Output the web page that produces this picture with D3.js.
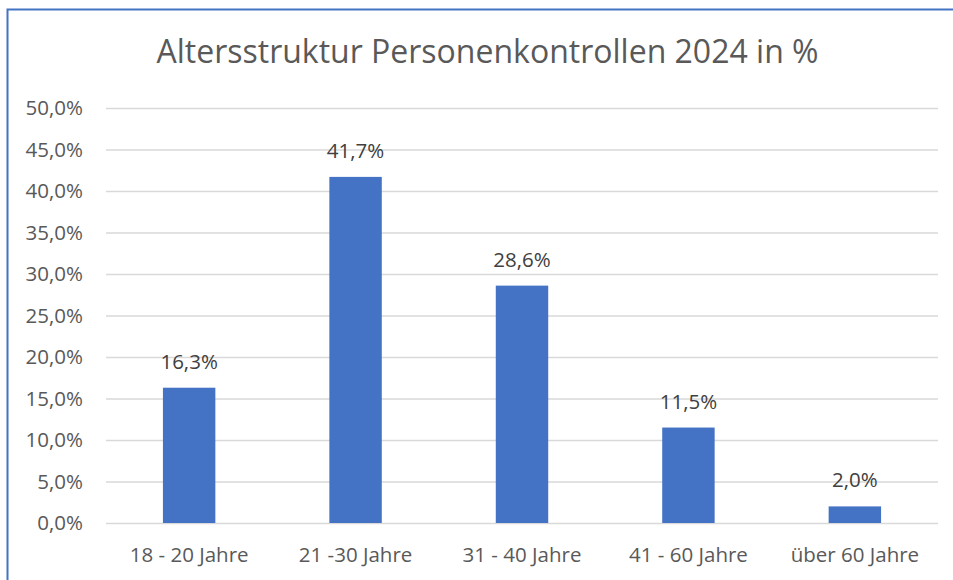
<!DOCTYPE html>
<html>
<head>
<meta charset="utf-8">
<script src="https://cdn.jsdelivr.net/npm/d3@7"></script>
<style>
  body { margin: 0; background: #fff; }
  text { font-family: "Open Sans", sans-serif; }
</style>
</head>
<body>
<svg width="953" height="580"></svg>
<script>
const categories = ["18 - 20 Jahre", "21 -30 Jahre", "31 - 40 Jahre", "41 - 60 Jahre", "über 60 Jahre"];
const values = [16.3, 41.7, 28.6, 11.5, 2.0];
const yTicks = [0, 5, 10, 15, 20, 25, 30, 35, 40, 45, 50];
const title = "Altersstruktur Personenkontrollen 2024 in %";

const w = 953;
const h = 580;
const plotLeft = 106, plotRight = 938, plotTop = 108, plotBottom = 523;
const svg = d3.select('svg');
const barColor = "#4472C4";
const fmt = v => v.toFixed(1).replace('.', ',') + '%';

// chart frame (only left and top are visible in the crop)
svg.append('path')
  .attr('d', `M7.5,${h} V9.5 H${w}`)
  .attr('fill', 'none')
  .attr('stroke', barColor)
  .attr('stroke-width', 2);

const xScale = d3.scaleBand()
  .domain(categories)
  .range([plotLeft, plotRight])
  .paddingInner(0.685)
  .paddingOuter(0.342);

const yScale = d3.scaleLinear()
  .domain([0, 50])
  .range([plotBottom, plotTop]);

const yAxis = d3.axisLeft(yScale)
  .tickValues(yTicks)
  .tickSize(-(plotRight - plotLeft))
  .tickPadding(23)
  .tickFormat(fmt);

const gy = svg.append('g')
  .attr('transform', `translate(${plotLeft},0)`)
  .call(yAxis);
gy.select('.domain').remove();
gy.selectAll('line').attr('stroke', '#D9D9D9').attr('stroke-width', 1.3);
gy.selectAll('text')
  .attr('fill', '#595959')
  .style('font-size', '20.5px');

const xAxis = d3.axisBottom(xScale).tickSize(0).tickPadding(24);
const gx = svg.append('g')
  .attr('transform', `translate(0,${plotBottom})`)
  .call(xAxis);
gx.select('.domain').remove();
gx.selectAll('text')
  .attr('fill', '#595959')
  .style('font-size', '20.5px');

svg.selectAll('rect.bar')
  .data(values)
  .enter()
  .append('rect')
  .attr('class', 'bar')
  .attr('x', (d, i) => xScale(categories[i]))
  .attr('width', xScale.bandwidth())
  .attr('y', d => yScale(d))
  .attr('height', d => yScale(0) - yScale(d))
  .attr('fill', barColor);

svg.selectAll('text.lbl')
  .data(values)
  .enter()
  .append('text')
  .attr('class', 'lbl')
  .attr('x', (d, i) => xScale(categories[i]) + xScale.bandwidth() / 2)
  .attr('y', d => yScale(d) - 19)
  .attr('text-anchor', 'middle')
  .attr('fill', '#404040')
  .style('font-size', '20.5px')
  .text(fmt);

svg.append('text')
  .attr('x', 487.5)
  .attr('y', 63)
  .attr('text-anchor', 'middle')
  .attr('fill', '#595959')
  .style('font-size', '32px')
  .text(title);
</script>
</body>
</html>
